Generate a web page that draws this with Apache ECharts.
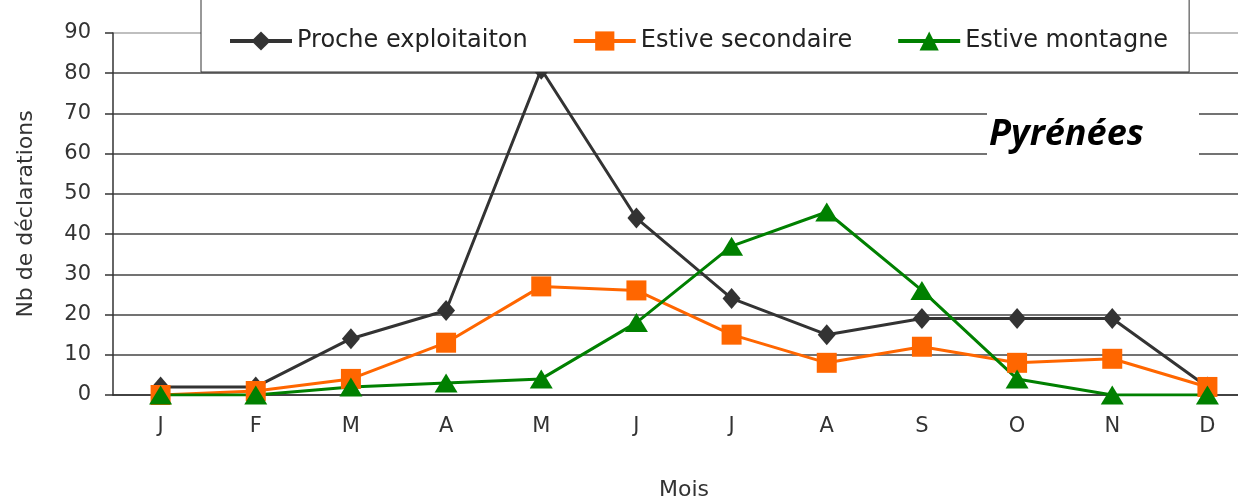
<!DOCTYPE html>
<html>
<head>
<meta charset="utf-8">
<script src="https://cdn.jsdelivr.net/npm/echarts@6/dist/echarts.min.js"></script>
<style>
	html, body { margin: 0; padding: 0; background: #fff; }
	#chart { width: 1238px; height: 498px; }
</style>
</head>
<body>
<div id="chart"></div>
<script>
// mois
var months = ['J', 'F', 'M', 'A', 'M', 'J', 'J', 'A', 'S', 'O', 'N', 'D'];
var yTicks = { min: 0, max: 90, interval: 10 };

var procheExploitation = [2, 2, 14, 21, 81, 44, 24, 15, 19, 19, 19, 2];
var estiveSecondaire = [0, 1, 4, 13, 27, 26, 15, 8, 12, 8, 9, 2];
var estiveMontagne = [0, 0, 2, 3, 4, 18, 37, 45.5, 26, 4, 0, 0];

var font = '"DejaVu Sans", sans-serif';

var option = {
	animation: false,
	grid: {
		left: 113,
		top: 33,
		width: 1142,
		height: 362,
		outerBoundsMode: 'none',
		containLabel: false
	},
	legend: {
		left: 201,
		top: -12,
		padding: [41, 21, 19, 27],
		backgroundColor: '#fff',
		borderColor: '#333',
		borderWidth: 1,
		itemGap: 44,
		itemWidth: 62,
		itemHeight: 24,
		lineStyle: { width: 4 },
		textStyle: {
			fontFamily: font,
			fontSize: 24,
			color: '#222'
		},
		data: ['Proche exploitaiton', 'Estive secondaire', 'Estive montagne']
	},
	xAxis: {
		type: 'category',
		data: months,
		name: 'Mois',
		nameLocation: 'middle',
		nameGap: 84,
		nameTextStyle: { fontFamily: font, fontSize: 22, color: '#333' },
		axisLine: { lineStyle: { color: '#333', width: 1.5 } },
		axisTick: { length: 7, lineStyle: { color: '#333', width: 1.5 } },
		axisLabel: { fontFamily: font, fontSize: 21, color: '#333', margin: 21 }
	},
	yAxis: {
		type: 'value',
		min: yTicks.min,
		max: yTicks.max,
		interval: yTicks.interval,
		name: 'Nb de déclarations',
		nameLocation: 'middle',
		nameGap: 76,
		nameTextStyle: { fontFamily: font, fontSize: 22, color: '#333' },
		axisLine: { show: true, lineStyle: { color: '#333', width: 1.5 } },
		axisTick: { show: true, length: 8, lineStyle: { color: '#333', width: 1.5 } },
		axisLabel: { fontFamily: font, fontSize: 21, color: '#333', margin: 22 },
		splitLine: {
			lineStyle: {
				color: ['#444', '#444', '#444', '#444', '#444', '#444', '#444', '#444', '#444', '#aaa'],
				width: 1.5
			}
		}
	},
	graphic: [{
		type: 'rect',
		shape: { x: 987, y: 111, width: 212, height: 47 },
		style: { fill: '#fff' },
		z: 50
	}, {
		type: 'text',
		x: 989,
		y: 117,
		style: {
			text: 'Pyrénées',
			font: 'italic bold 36px "Open Sans", sans-serif',
			fill: '#000'
		},
		z: 51
	}],
	series: [{
		name: 'Proche exploitaiton',
		type: 'line',
		data: procheExploitation,
		symbol: 'diamond',
		symbolSize: [18, 21],
		lineStyle: { color: '#333', width: 3 },
		itemStyle: { color: '#333' }
	}, {
		name: 'Estive secondaire',
		type: 'line',
		data: estiveSecondaire,
		symbol: 'rect',
		symbolSize: 20,
		lineStyle: { color: '#ff6600', width: 3 },
		itemStyle: { color: '#ff6600' }
	}, {
		name: 'Estive montagne',
		type: 'line',
		data: estiveMontagne,
		symbol: 'triangle',
		symbolSize: [23, 19],
		lineStyle: { color: '#008000', width: 3 },
		itemStyle: { color: '#008000' }
	}]
};

var myChart = echarts.init(document.getElementById('chart'));
myChart.setOption(option);
</script>
</body>
</html>
